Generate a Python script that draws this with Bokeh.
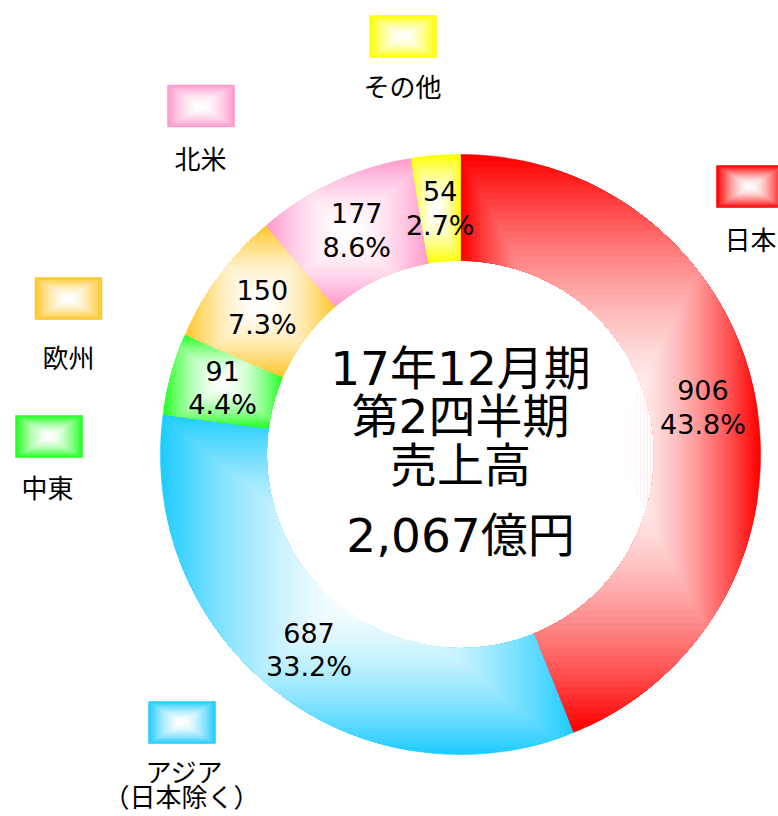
import numpy as np
from bokeh.plotting import figure
from bokeh.models import Range1d
from bokeh.core.properties import value
from bokeh.embed import file_html
from bokeh.resources import INLINE

# ---------------- data ----------------
regions = ["日本", "アジア（日本除く）", "中東", "欧州", "北米", "その他"]
legend_lines = [["日本"], ["アジア", "（日本除く）"], ["中東"], ["欧州"], ["北米"], ["その他"]]
sales = [906, 687, 91, 150, 177, 54]
pct_labels = ["43.8%", "33.2%", "4.4%", "7.3%", "8.6%", "2.7%"]
colors = ["#FF0000", "#20CCFF", "#22FF22", "#FFC629", "#FF99CC", "#FFFF00"]
center_lines = ["17年12月期", "第2四半期", "売上高", "2,067億円"]

# ---------------- layout ----------------
W, H = 778, 816
CX, CY = 460, 454
R_OUT, R_IN = 300, 194
LABEL_R = 247
legend_box = [(749.5, 186), (181.5, 722), (48.5, 436), (68, 298), (200.5, 105.5), (402.5, 36)]
legend_text = [[(750, 238)], [(184, 770), (181, 795)], [(47, 486)], [(68, 356)], [(200, 157)], [(402, 85)]]
BOX_W, BOX_H = 67, 42
GAMMA = 1.7

p = figure(width=W, height=H, output_backend="svg", toolbar_location=None,
           x_range=Range1d(0, W), y_range=Range1d(H, 0),
           min_border=0)
p.axis.visible = False
p.grid.visible = False
p.outline_line_color = None
p.background_fill_color = "white"
p.border_fill_color = "white"


def hex2rgb(h):
    h = h.lstrip("#")
    return np.array([int(h[i:i + 2], 16) for i in (0, 2, 4)], dtype=float)


def mix(base, t):
    t = t ** GAMMA
    c = 255 * (1 - t) + hex2rgb(base) * t
    return "#%02x%02x%02x" % tuple(int(round(v)) for v in c)


def clip_rect(poly, x0, x1, y0, y1):
    def clip(pts, inside, inter):
        out = []
        n = len(pts)
        for i in range(n):
            cur, prev = pts[i], pts[i - 1]
            ci, pi = inside(cur), inside(prev)
            if ci:
                if not pi:
                    out.append(inter(prev, cur))
                out.append(cur)
            elif pi:
                out.append(inter(prev, cur))
        return out

    def ix(xv):
        return lambda a, b: (xv, a[1] + (b[1] - a[1]) * (xv - a[0]) / (b[0] - a[0]))

    def iy(yv):
        return lambda a, b: (a[0] + (b[0] - a[0]) * (yv - a[1]) / (b[1] - a[1]), yv)

    pts = list(poly)
    for inside, inter in [(lambda q: q[0] >= x0, ix(x0)), (lambda q: q[0] <= x1, ix(x1)),
                          (lambda q: q[1] >= y0, iy(y0)), (lambda q: q[1] <= y1, iy(y1))]:
        if not pts:
            break
        pts = clip(pts, inside, inter)
    return pts


total = float(sum(sales))
fracs = np.array(sales) / total
ends = np.cumsum(fracs) * 2 * np.pi
starts = ends - fracs * 2 * np.pi

xs_all, ys_all, cols_all = [], [], []
N = 45
for a0, a1, col in zip(starts, ends, colors):
    n = max(int(np.degrees(a1 - a0)) * 2, 4)
    th = np.linspace(a0, a1, n)
    outer = [(CX + R_OUT * np.sin(t), CY - R_OUT * np.cos(t)) for t in th]
    inner = [(CX + R_IN * np.sin(t), CY - R_IN * np.cos(t)) for t in th[::-1]]
    poly = outer + inner
    px = [q[0] for q in poly]
    py = [q[1] for q in poly]
    bx0, bx1, by0, by1 = min(px), max(px), min(py), max(py)
    mx, my = (bx0 + bx1) / 2, (by0 + by1) / 2
    hw, hh = (bx1 - bx0) / 2, (by1 - by0) / 2
    for k in range(N, 0, -1):
        s = k / N
        c = clip_rect(poly, mx - hw * s - 0.01, mx + hw * s + 0.01, my - hh * s - 0.01, my + hh * s + 0.01)
        if len(c) < 3:
            continue
        xs_all.append([q[0] for q in c])
        ys_all.append([q[1] for q in c])
        cols_all.append(mix(col, s))

p.patches(xs_all, ys_all, fill_color=cols_all, line_color=cols_all, line_width=0.6)

# legend boxes with rectangular gradient
ql, qr, qt, qb, qc = [], [], [], [], []
NB = 24
for (bx, by), col in zip(legend_box, colors):
    for k in range(NB, 0, -1):
        s = k / NB
        ql.append(bx - BOX_W / 2 * s)
        qr.append(bx + BOX_W / 2 * s)
        qt.append(by - BOX_H / 2 * s)
        qb.append(by + BOX_H / 2 * s)
        qc.append(mix(col, s))
p.quad(left=ql, right=qr, top=qt, bottom=qb, fill_color=qc, line_color=qc, line_width=0.5)

# legend texts
lx, ly, lt = [], [], []
for lines, pos in zip(legend_lines, legend_text):
    for s, (x, y) in zip(lines, pos):
        lx.append(x)
        ly.append(y)
        lt.append(s)
p.text(lx, ly, text=lt, text_align="center", text_baseline="middle",
       text_font=value("Noto Sans CJK JP"), text_font_size="26px", text_color="#000000")

# slice labels
mids = (starts + ends) / 2
vx = CX + LABEL_R * np.sin(mids)
vy = CY - LABEL_R * np.cos(mids)
p.text(vx, vy - 17, text=[str(v) for v in sales], text_align="center", text_baseline="middle",
       text_font=value("DejaVu Sans"), text_font_size="27px", text_color="#000000")
p.text(vx, vy + 17, text=pct_labels, text_align="center", text_baseline="middle",
       text_font=value("DejaVu Sans"), text_font_size="27px", text_color="#000000")

# center text
cy_lines = [368, 416, 465, 535]
p.text([CX] * 4, cy_lines, text=center_lines, text_align="center", text_baseline="middle",
       text_font=value("DejaVu Sans, Noto Sans CJK JP"), text_font_size="47px", text_color="#000000")

open("out.html", "w").write(file_html(p, INLINE))
